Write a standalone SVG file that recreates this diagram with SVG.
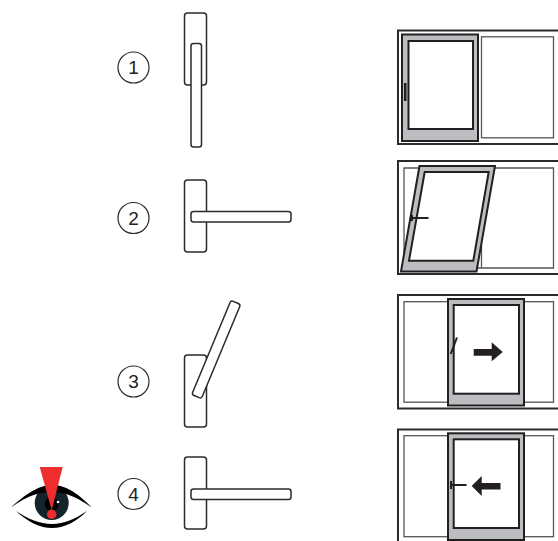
<svg xmlns="http://www.w3.org/2000/svg" width="558" height="541" viewBox="0 0 558 541">
<style>
.h{fill:#fff;stroke:#2b2b2b;stroke-width:1.5}
.c{fill:#fff;stroke:#2b2b2b;stroke-width:1.2}
.n{font-family:"Liberation Sans",Arial,sans-serif;font-size:19px;fill:#222;text-anchor:middle}
.o{fill:#fff;stroke:#2b2b2b;stroke-width:2}
.p{fill:#fff;stroke:#555;stroke-width:1.3}
.s{fill:#bcbdc0;stroke:#231f20;stroke-width:2}
.i{fill:#fff;stroke:#231f20;stroke-width:2}
.k{fill:none;stroke:#231f20;stroke-width:2}
.a{fill:#231f20}
</style>
<g id="step-1">
<circle class="c" cx="133.5" cy="67.5" r="15.500"/><text class="n" x="133.5" y="74">1</text>
<rect class="h" x="184.5" y="13" width="22" height="72" rx="3"/>
<rect class="h" x="191" y="43.5" width="10.5" height="103.5" rx="2.5"/>
</g>
<g id="step-2">
<circle class="c" cx="133.5" cy="218" r="15.500"/><text class="n" x="133.5" y="224.5">2</text>
<rect class="h" x="184.5" y="180" width="22" height="72" rx="3"/>
<rect class="h" x="191" y="211.5" width="100" height="10.5" rx="2.5"/>
</g>
<g id="step-3">
<circle class="c" cx="133.5" cy="381.5" r="15.500"/><text class="n" x="133.5" y="388">3</text>
<rect class="h" x="184.5" y="355" width="22" height="72" rx="3"/>
<rect class="h" x="211" y="298.500" width="10.500" height="102" rx="2.500" transform="rotate(22.600 216.250 349.300)"/>
</g>
<g id="step-4">
<circle class="c" cx="133.5" cy="494" r="15.500"/><text class="n" x="133.5" y="500.5">4</text>
<rect class="h" x="184.5" y="457" width="22" height="72" rx="3"/>
<rect class="h" x="191" y="489" width="100" height="10.500" rx="2.500"/>
</g>
<g id="window-1">
<path class="o" d="M558 30.500H398V144H558"/>
<rect class="p" x="481.500" y="36.800" width="72" height="101"/>
<rect class="s" x="402" y="34.500" width="76" height="106.500"/>
<rect class="i" x="408.500" y="41" width="64.500" height="88"/>
<rect class="a" x="404" y="83" width="2.500" height="18"/>
</g>
<g id="window-2">
<path class="o" d="M558 161H398V274H558"/>
<path fill="none" stroke="#555" stroke-width="1.300" d="M420 168H404V268M495 168H553.500V268H478M481.500 268V244"/>
<path fill="#bcbdc0" stroke="#231f20" stroke-width="2" fill-rule="evenodd" d="M419.500 166H495L476.500 271.500H401ZM424.700 172L409 260.700H473.300L488.700 172Z"/>
<path class="k" d="M412 218H428.500M412 215V221"/>
</g>
<g id="window-3">
<path class="o" d="M558 295H398V408.500H558"/>
<rect class="p" x="404" y="301.700" width="149.500" height="100.500"/>
<rect class="s" x="448" y="299" width="76" height="106.500"/>
<rect class="i" x="453.700" y="305" width="65.300" height="88.700"/>
<path class="k" d="M450.700 354L457 337.500"/>
<polygon class="a" points="473.700,349 491.700,349 491.700,342.300 502.700,352 491.700,361.300 491.700,355.700 473.700,355.700"/>
</g>
<g id="window-4">
<path class="o" d="M558 429.500H398V541"/>
<rect class="p" x="404" y="435.700" width="149.500" height="101"/>
<rect class="s" x="448" y="433.300" width="76" height="106.700"/>
<rect class="i" x="453.700" y="439.300" width="65.300" height="88.700"/>
<path class="k" d="M451 485H466.500M451 481V489"/>
<polygon class="a" points="500.500,483 481.700,483 481.700,476 471.700,486 481.700,496 481.700,489.500 500.500,489.500"/>
</g>
<g id="eye">
<circle cx="51.700" cy="503" r="17" fill="#14242a"/>
<circle cx="51.700" cy="504" r="7" fill="#000"/>
<path d="M11 507.500C30 490 42 485 52 485C63 485 75 490 91.700 507.500C74 495 62 492 52 492C41 492 28 495 11 507.500Z" fill="#000"/>
<path d="M16 511C28 522 40 528 52 528C64 528 76 522 87 511C75 519 64 524 52 524C40 524 28 519 16 511Z" fill="#000"/>
<circle cx="58" cy="502" r="1.300" fill="#fff"/>
<polygon points="39.700,467 62.700,467 51.700,510" fill="#ee2e2e"/>
<circle cx="51.700" cy="514.300" r="4.700" fill="#ee2e2e"/>
</g>
</svg>
